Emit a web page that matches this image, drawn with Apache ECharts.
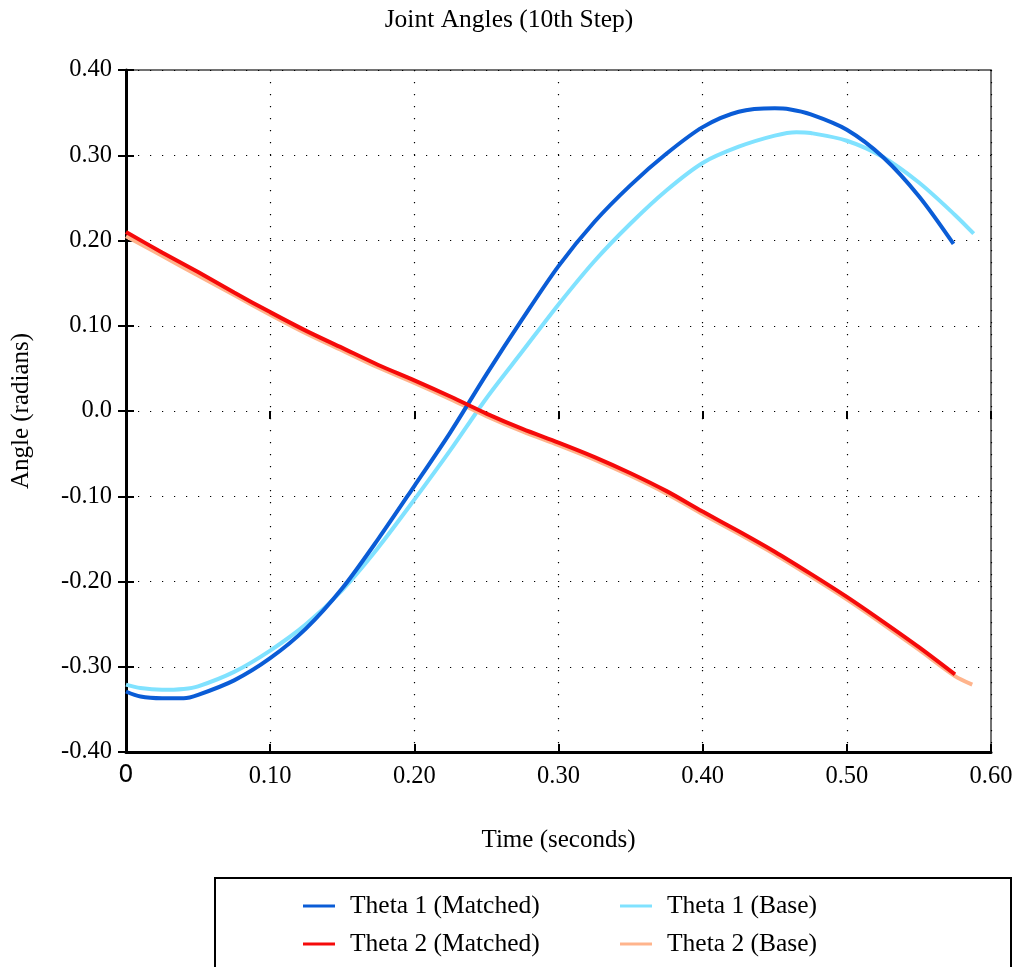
<!DOCTYPE html>
<html>
<head>
<meta charset="utf-8">
<script src="https://cdn.jsdelivr.net/npm/echarts@6/dist/echarts.min.js"></script>
<style>html,body{margin:0;padding:0;background:#fff}#c{width:1018px;height:967px}</style>
</head>
<body>
<div id="c"></div>
<script>
// ---- data ----
var titleText = 'Joint Angles (10th Step)';
var xName = 'Time (seconds)';
var yName = 'Angle (radians)';
var seriesNames = ['Theta 1 (Matched)', 'Theta 1 (Base)', 'Theta 2 (Matched)', 'Theta 2 (Base)'];

var theta1MatchedT = [0, 0.01, 0.025, 0.04, 0.05, 0.075, 0.10, 0.125, 0.15, 0.175, 0.20, 0.225, 0.25, 0.275, 0.30, 0.325, 0.35, 0.375, 0.40, 0.425, 0.45, 0.46, 0.475, 0.50, 0.525, 0.55, 0.574];
var theta1MatchedV = [-0.329, -0.335, -0.337, -0.337, -0.333, -0.316, -0.290, -0.255, -0.208, -0.150, -0.088, -0.025, 0.043, 0.108, 0.170, 0.222, 0.265, 0.302, 0.333, 0.351, 0.355, 0.354, 0.348, 0.330, 0.298, 0.252, 0.196];

var theta1BaseT = [0, 0.01, 0.025, 0.04, 0.05, 0.075, 0.10, 0.125, 0.15, 0.175, 0.20, 0.225, 0.25, 0.275, 0.30, 0.325, 0.35, 0.375, 0.40, 0.425, 0.45, 0.465, 0.475, 0.50, 0.525, 0.55, 0.575, 0.588];
var theta1BaseV = [-0.321, -0.325, -0.327, -0.326, -0.323, -0.306, -0.281, -0.250, -0.210, -0.160, -0.104, -0.046, 0.015, 0.070, 0.125, 0.176, 0.220, 0.259, 0.291, 0.310, 0.323, 0.327, 0.326, 0.317, 0.298, 0.268, 0.230, 0.208];

var theta2MatchedT = [0, 0.025, 0.05, 0.075, 0.10, 0.125, 0.15, 0.175, 0.20, 0.225, 0.25, 0.275, 0.30, 0.325, 0.35, 0.375, 0.40, 0.425, 0.45, 0.475, 0.50, 0.525, 0.55, 0.575];
var theta2MatchedV = [0.210, 0.186, 0.163, 0.139, 0.116, 0.094, 0.074, 0.054, 0.036, 0.017, -0.003, -0.021, -0.037, -0.054, -0.073, -0.094, -0.118, -0.141, -0.165, -0.191, -0.218, -0.247, -0.277, -0.309];

var theta2BaseT = [0, 0.025, 0.05, 0.075, 0.10, 0.125, 0.15, 0.175, 0.20, 0.225, 0.25, 0.275, 0.30, 0.325, 0.35, 0.375, 0.40, 0.425, 0.45, 0.475, 0.50, 0.525, 0.55, 0.575, 0.587];
var theta2BaseV = [0.205, 0.182, 0.159, 0.136, 0.113, 0.091, 0.071, 0.051, 0.033, 0.014, -0.006, -0.024, -0.040, -0.057, -0.076, -0.097, -0.121, -0.144, -0.168, -0.194, -0.221, -0.250, -0.280, -0.311, -0.321];

var colors = {
  'Theta 1 (Matched)': '#0a5cd6',
  'Theta 1 (Base)': '#80e2ff',
  'Theta 2 (Matched)': '#f50a0a',
  'Theta 2 (Base)': '#ffb48c'
};

function pairs(ts, vs) { return ts.map(function (t, i) { return [t, vs[i]]; }); }

var serif = 'Liberation Serif';
var dotted = { color: '#000', width: 1.2, type: [1.2, 10.8] };

function mkSeries(name, ts, vs, z) {
  return {
    name: name, type: 'line', data: pairs(ts, vs), showSymbol: false, symbol: 'none',
    smooth: 0.3, z: z,
    lineStyle: { color: colors[name], width: 4 },
    itemStyle: { color: colors[name] }
  };
}

var chart = echarts.init(document.getElementById('c'), null, { renderer: 'canvas' });
var legendText = { fontFamily: serif, fontSize: 25.5, color: '#000', lineHeight: 26, padding: [0, 0, 0, 10] };
chart.setOption({
  backgroundColor: '#fff',
  animation: false,
  title: {
    text: titleText, left: 'center', top: 2,
    textStyle: { fontFamily: serif, fontSize: 25.5, fontWeight: 'normal', color: '#000' }
  },
  grid: { left: 126, right: 27, top: 70, bottom: 215, show: true, borderColor: '#444', borderWidth: 1.5, backgroundColor: 'transparent' },
  legend: [
    { data: [seriesNames[0], seriesNames[2]], orient: 'vertical', left: 298, top: 888, itemWidth: 32, itemHeight: 3, itemGap: 12, icon: 'rect', textStyle: legendText },
    { data: [seriesNames[1], seriesNames[3]], orient: 'vertical', left: 615, top: 888, itemWidth: 32, itemHeight: 3, itemGap: 12, icon: 'rect', textStyle: legendText }
  ],
  graphic: [{
    type: 'rect', shape: { x: 215, y: 878, width: 796, height: 100 },
    style: { fill: 'none', stroke: '#000', lineWidth: 2 }, silent: true
  }],
  xAxis: [{
    type: 'value', min: 0, max: 0.6, interval: 0.1, position: 'bottom',
    name: xName, nameLocation: 'middle', nameGap: 76,
    nameTextStyle: { fontFamily: serif, fontSize: 25, color: '#000' },
    axisLine: { show: true, onZero: false, lineStyle: { color: '#000', width: 3 } },
    axisTick: { show: true, inside: true, length: 8, lineStyle: { color: '#000', width: 2 } },
    axisLabel: {
      margin: 12, fontFamily: serif, fontSize: 24.5, color: '#000',
      formatter: function (v) { return Math.abs(v) < 1e-9 ? '{s|0}' : v.toFixed(2); },
      rich: { s: { fontFamily: 'DejaVu Sans', fontSize: 24, color: '#000' } }
    },
    splitLine: { show: true, lineStyle: dotted }
  }, {
    type: 'value', min: 0, max: 0.6, interval: 0.1, position: 'top',
    axisLine: { show: false }, axisLabel: { show: false },
    axisTick: { show: true, inside: true, length: 8, lineStyle: { color: '#000', width: 2 } },
    splitLine: { show: false }
  }],
  yAxis: [{
    type: 'value', min: -0.4, max: 0.4, interval: 0.1, position: 'left',
    name: yName, nameLocation: 'middle', nameGap: 92, nameRotate: 90,
    nameTextStyle: { fontFamily: serif, fontSize: 25, color: '#000' },
    axisLine: { show: true, onZero: false, lineStyle: { color: '#000', width: 3 } },
    axisTick: { show: true, inside: true, length: 8, lineStyle: { color: '#000', width: 2 } },
    axisLabel: {
      margin: 14, fontFamily: serif, fontSize: 24.5, color: '#000',
      formatter: function (v) { return Math.abs(v) < 1e-9 ? '0.0' : v.toFixed(2); }
    },
    splitLine: { show: true, lineStyle: dotted }
  }, {
    type: 'value', min: -0.4, max: 0.4, interval: 0.1, position: 'right',
    axisLine: { show: false }, axisLabel: { show: false },
    axisTick: { show: true, inside: true, length: 8, lineStyle: { color: '#000', width: 2 } },
    splitLine: { show: false }
  }],
  series: [
    mkSeries(seriesNames[1], theta1BaseT, theta1BaseV, 2),
    mkSeries(seriesNames[3], theta2BaseT, theta2BaseV, 2),
    mkSeries(seriesNames[0], theta1MatchedT, theta1MatchedV, 3),
    mkSeries(seriesNames[2], theta2MatchedT, theta2MatchedV, 3)
  ]
});
</script>
</body>
</html>
